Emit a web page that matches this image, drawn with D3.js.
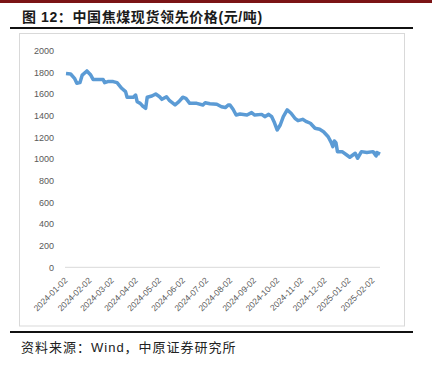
<!DOCTYPE html>
<html>
<head>
<meta charset="utf-8">
<script src="https://cdn.jsdelivr.net/npm/d3@7"></script>
<style>
  body { margin: 0; background: #fff; }
  text { font-family: "Liberation Sans", "Noto Sans CJK SC", sans-serif; }
</style>
</head>
<body>
<div id="chart"></div>
<script>
// data
var dates = ["2024-01-02","2024-01-08","2024-01-13","2024-01-16","2024-01-20","2024-01-23","2024-01-29",
  "2024-02-03","2024-02-06","2024-02-19","2024-02-21","2024-02-25","2024-03-03","2024-03-08","2024-03-14",
  "2024-03-19","2024-03-21","2024-03-29","2024-04-01","2024-04-03","2024-04-07","2024-04-11","2024-04-14",
  "2024-04-16","2024-04-22","2024-04-27","2024-05-02","2024-05-05","2024-05-11","2024-05-15","2024-05-22",
  "2024-05-27","2024-06-01","2024-06-05","2024-06-10","2024-06-19","2024-06-27","2024-06-30","2024-07-06",
  "2024-07-15","2024-07-21","2024-07-26","2024-07-30","2024-08-01","2024-08-05","2024-08-09","2024-08-14",
  "2024-08-23","2024-08-29","2024-09-02","2024-09-11","2024-09-15","2024-09-20","2024-09-24","2024-09-27",
  "2024-10-01","2024-10-05","2024-10-09","2024-10-14","2024-10-19","2024-10-24","2024-10-28","2024-11-03",
  "2024-11-08","2024-11-13","2024-11-19","2024-11-25","2024-11-30","2024-12-06","2024-12-10","2024-12-12",
  "2024-12-14","2024-12-16","2024-12-18","2024-12-24","2024-12-30","2025-01-03","2025-01-10","2025-01-13",
  "2025-01-18","2025-01-25","2025-02-02","2025-02-06","2025-02-07","2025-02-11"];
var prices = [1790,1785,1745,1700,1705,1775,1813,
  1775,1735,1735,1705,1715,1715,1705,1653,
  1622,1570,1570,1591,1529,1514,1483,1468,
  1570,1582,1600,1575,1551,1575,1538,1499,
  1529,1570,1560,1514,1514,1499,1520,1510,
  1505,1483,1475,1499,1499,1459,1406,1415,
  1406,1428,1406,1412,1391,1412,1391,1345,
  1268,1314,1391,1453,1422,1376,1354,1366,
  1345,1330,1284,1274,1252,1206,1151,1114,
  1166,1151,1068,1068,1037,1016,1053,1007,
  1068,1060,1068,1028,1060,1045];
var tickLabels = ["2024-01-02","2024-02-02","2024-03-02","2024-04-02","2024-05-02","2024-06-02","2024-07-02",
  "2024-08-02","2024-09-02","2024-10-02","2024-11-02","2024-12-02","2025-01-02","2025-02-02"];
var yTicks = [0,200,400,600,800,1000,1200,1400,1600,1800,2000];

var width = 432, height = 367;
var parse = d3.timeParse("%Y-%m-%d");

var svg = d3.select("#chart").append("svg")
    .attr("width", width)
    .attr("height", height);

// header / footer decoration
svg.append("rect").attr("x", 0).attr("y", 0).attr("width", width).attr("height", 3).attr("fill", "#7b1416");
svg.append("text")
    .attr("x", 22).attr("y", 22)
    .attr("font-size", 14).attr("font-weight", "bold").attr("fill", "#1a1a1a")
    .attr("letter-spacing", 0.6)
    .text("图 12：中国焦煤现货领先价格(元/吨)");
svg.append("rect").attr("x", 10).attr("y", 27).attr("width", 403).attr("height", 2).attr("fill", "#111");
svg.append("rect").attr("x", 19.5).attr("y", 33.5).attr("width", 385).attr("height", 292.5)
    .attr("fill", "none").attr("stroke", "#d9d9d9");
svg.append("rect").attr("x", 10).attr("y", 331).attr("width", 403).attr("height", 2).attr("fill", "#111");
svg.append("text")
    .attr("x", 21).attr("y", 352)
    .attr("font-size", 13).attr("fill", "#222")
    .attr("letter-spacing", 1)
    .text("资料来源：Wind，中原证券研究所");

var x = d3.scaleTime()
    .domain([parse("2024-01-02"), parse("2025-02-11")])
    .range([66, 380]);
var y = d3.scaleLinear().domain([0, 2000]).range([267.3, 50.7]);

// y axis labels, no line
var yAxis = svg.append("g")
    .attr("transform", "translate(56,0)")
    .call(d3.axisLeft(y).tickValues(yTicks).tickFormat(d3.format("d")).tickSize(0).tickPadding(2));
yAxis.select(".domain").remove();
yAxis.selectAll("text").attr("font-size", 9).attr("fill", "#595959")
    .style("font-family", "'Liberation Sans', sans-serif");

// x axis line
svg.append("line")
    .attr("x1", 65).attr("x2", 380)
    .attr("y1", y(0)).attr("y2", y(0))
    .attr("stroke", "#d9d9d9");

svg.selectAll(".xlab")
    .data(tickLabels)
    .enter().append("text")
    .attr("class", "xlab")
    .attr("transform", function(d) {
        return "translate(" + (x(parse(d)) + 2) + "," + 281 + ") rotate(-45)"
    })
    .attr("text-anchor", "end")
    .attr("font-size", 8.5)
    .attr("fill", "#595959")
    .text(function(d) { return d });

var points = dates.map(function(d, i) { return [parse(d), prices[i]] });
var line = d3.line()
    .x(function(d) { return x(d[0]) })
    .y(function(d) { return y(d[1]) });

svg.append("path")
    .datum(points)
    .attr("d", line)
    .attr("fill", "none")
    .attr("stroke", "#5b9bd5")
    .attr("stroke-width", 3.5)
    .attr("stroke-linejoin", "round");
</script>
</body>
</html>
